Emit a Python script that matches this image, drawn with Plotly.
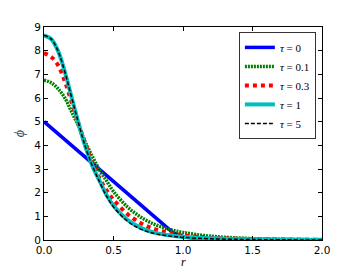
import plotly.graph_objects as go

r = [0.0, 0.05, 0.1, 0.15, 0.2, 0.25, 0.3, 0.35, 0.4, 0.45, 0.5, 0.6, 0.7, 0.8, 0.9, 1.0, 1.2, 1.5, 2.0]
r_tau0 = [0.0, 0.93, 1.0, 1.1, 1.3, 2.0]
phi_tau0 = [5.0, 0.3, 0.15, 0.05, 0.01, 0.0]
phi_tau01 = [6.75, 6.65, 6.4, 6.0, 5.4, 4.8, 4.1, 3.5, 2.95, 2.5, 2.05, 1.4, 0.95, 0.65, 0.45, 0.32, 0.16, 0.06, 0.01]
phi_tau03 = [7.9, 7.75, 7.4, 6.7, 5.8, 4.9, 4.0, 3.25, 2.6, 2.1, 1.7, 1.1, 0.7, 0.45, 0.3, 0.2, 0.1, 0.04, 0.01]
phi_tau1 = [8.65, 8.5, 8.0, 7.1, 6.0, 4.9, 3.9, 3.1, 2.5, 1.9, 1.45, 0.85, 0.5, 0.3, 0.2, 0.13, 0.07, 0.03, 0.01]
phi_tau5 = [8.65, 8.5, 8.0, 7.1, 6.0, 4.9, 3.9, 3.1, 2.45, 1.85, 1.4, 0.8, 0.45, 0.27, 0.17, 0.11, 0.05, 0.02, 0.0]
labels = ["<i>τ</i> = 0", "<i>τ</i> = 0.1", "<i>τ</i> = 0.3", "<i>τ</i> = 1", "<i>τ</i> = 5"]
x_ticks = [0.0, 0.5, 1.0, 1.5, 2.0]
x_tick_text = ["0.0", "0.5", "1.0", "1.5", "2.0"]
y_ticks = list(range(10))

fig = go.Figure()
fig.add_trace(go.Scatter(x=r_tau0, y=phi_tau0, mode="lines", name=labels[0],
                         line=dict(color="#0000ff", width=3.5)))
fig.add_trace(go.Scatter(x=r, y=phi_tau01, mode="lines", name=labels[1], line_shape="spline",
                         line=dict(color="#008000", width=3.5, dash="2px,1px")))
fig.add_trace(go.Scatter(x=r, y=phi_tau03, mode="lines", name=labels[2], line_shape="spline",
                         line=dict(color="#ff0000", width=4, dash="4px,4px")))
fig.add_trace(go.Scatter(x=r, y=phi_tau1, mode="lines", name=labels[3], line_shape="spline",
                         line=dict(color="#00bfbf", width=4)))
fig.add_trace(go.Scatter(x=r, y=phi_tau5, mode="lines", name=labels[4], line_shape="spline",
                         line=dict(color="#000000", width=1.5, dash="4px,2px")))

axis_common = dict(showgrid=False, zeroline=False, showline=True, linecolor="black", linewidth=1,
                   mirror="ticks", ticks="inside", ticklen=4, tickcolor="black", automargin=False,
                   tickfont=dict(family="DejaVu Sans", size=10.5, color="black"))
fig.update_xaxes(range=[0, 2], tickvals=x_ticks, ticktext=x_tick_text, **axis_common)
fig.update_yaxes(range=[0, 9], tickvals=y_ticks,
                 title=dict(text="<i>ϕ</i>", font=dict(family="Liberation Serif", size=14), standoff=6),
                 **axis_common)
fig.add_annotation(text="<i>r</i>", x=0.5, xref="paper", y=0, yref="paper",
                   yanchor="top", yshift=-14, showarrow=False, borderpad=0,
                   font=dict(family="Liberation Serif", size=12, color="black"))
fig.update_layout(
    width=349, height=268,
    margin=dict(l=36, r=35, t=19, b=36),
    plot_bgcolor="white", paper_bgcolor="white",
    showlegend=True,
    legend=dict(x=0.978, y=0.977, xanchor="right", yanchor="top",
                bordercolor="#333333", borderwidth=1, bgcolor="white",
                font=dict(family="Liberation Serif", size=11, color="black"),
                tracegroupgap=0, itemwidth=30),
)
fig.write_html("out.html")
